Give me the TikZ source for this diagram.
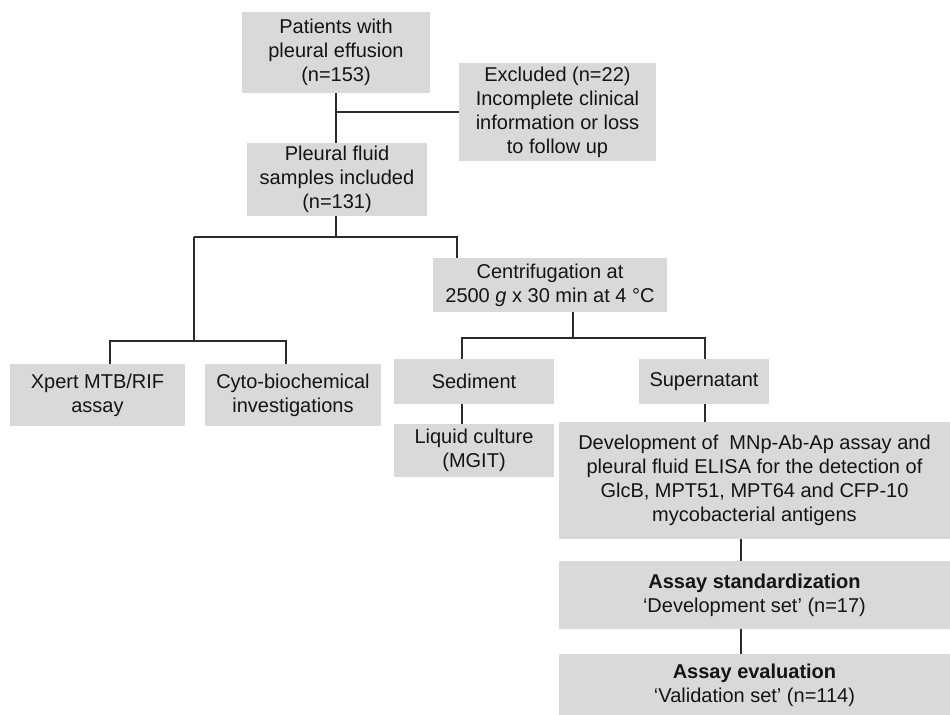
\documentclass[tikz,border=0pt]{standalone}
\usepackage{fontspec}
\setmainfont{Liberation Sans}
\definecolor{boxgray}{HTML}{D9D9D9}
\definecolor{txt}{HTML}{141414}
\definecolor{linec}{HTML}{2B2B2B}
\begin{document}
\begin{tikzpicture}[x=0.5pt,y=-0.5pt,
  box/.style={fill=boxgray, draw=none, inner sep=0pt, align=center, text=txt,
    font=\fontsize{10}{12}\selectfont},
  conn/.style={draw=linec, line width=0.7pt}]
\useasboundingbox (0,0) rectangle (950,715);
% nodes
\node[box, minimum width=94pt, minimum height=40.5pt] (p) at (336,52.5) {Patients with\\pleural effusion\\(n=153)};
\node[box, minimum width=98.5pt, minimum height=49pt] (ex) at (557.5,112) {Excluded (n=22)\\Incomplete clinical\\information or loss\\to follow up};
\node[box, minimum width=90pt, minimum height=36.5pt] (s) at (337,179.5) {Pleural fluid\\samples included\\(n=131)};
\node[box, minimum width=117pt, minimum height=27pt] (c) at (550,285) {Centrifugation at\\2500 \textit{g} x 30 min at 4 °C};
\node[box, minimum width=87.5pt, minimum height=31pt] (xp) at (97.5,395) {Xpert MTB/RIF\\assay};
\node[box, minimum width=88pt, minimum height=31pt] (cy) at (293,395) {Cyto-biochemical\\investigations};
\node[box, minimum width=80pt, minimum height=22.5pt] (sed) at (474,381.5) {Sediment};
\node[box, minimum width=65pt, minimum height=22.5pt] (sup) at (704,381.5) {Supernatant};
\node[box, minimum width=80pt, minimum height=26.5pt] (lq) at (474,450.5) {Liquid culture\\(MGIT)};
\node[box, minimum width=195.5pt, minimum height=58.5pt] (dev) at (754.5,480.5) {Development of\ \ MNp-Ab-Ap assay and\\pleural fluid ELISA for the detection of\\GlcB, MPT51, MPT64 and CFP-10\\mycobacterial antigens};
\node[box, minimum width=195.5pt, minimum height=34pt] (std) at (754.5,595) {\textbf{Assay standardization}\\‘Development set’ (n=17)};
\node[box, minimum width=195.5pt, minimum height=31pt] (ev) at (754.5,685) {\textbf{Assay evaluation}\\‘Validation set’ (n=114)};
% junction coordinates
\coordinate (j1) at (336,237);
\coordinate (j1l) at (194,237);
\coordinate (j1r) at (457,237);
\coordinate (j2) at (194,341);
\coordinate (j2l) at (110,341);
\coordinate (j2r) at (286,341);
\coordinate (j3) at (573,338);
\coordinate (j3l) at (462,338);
\coordinate (j3r) at (705,338);
\coordinate (col) at (741,0);
% connectors
\draw[conn] (p.south) -- (p.south |- s.north);
\draw[conn] (ex.west) -- (ex.west -| p.south);
\draw[conn] (j1 |- s.south) -- (j1);
\draw[conn] (j1l) -- (j1r) -- (j1r |- c.north);
\draw[conn] (j1l) -- (j2);
\draw[conn] (j2l |- xp.north) -- (j2l) -- (j2r) -- (j2r |- cy.north);
\draw[conn] (j3 |- c.south) -- (j3);
\draw[conn] (j3l |- sed.north) -- (j3l) -- (j3r) -- (j3r |- sup.north);
\draw[conn] (j3l |- sed.south) -- (j3l |- lq.north);
\draw[conn] (j3r |- sup.south) -- (j3r |- dev.north);
\draw[conn] (col |- dev.south) -- (col |- std.north);
\draw[conn] (col |- std.south) -- (col |- ev.north);
\end{tikzpicture}
\end{document}
